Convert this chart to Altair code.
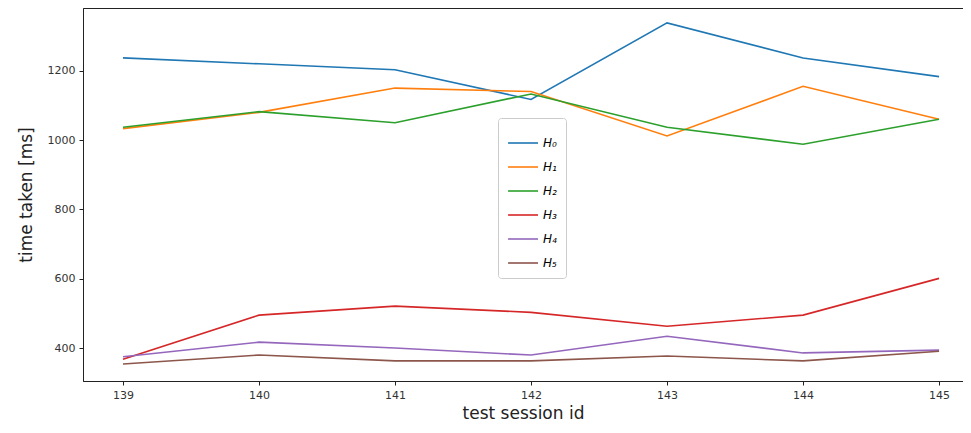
import altair as alt
import pandas as pd

sessions = [139, 140, 141, 142, 143, 144, 145]
series_names = ["H₀", "H₁", "H₂", "H₃", "H₄", "H₅"]
h0 = [1237, 1220, 1203, 1117, 1338, 1237, 1183]
h1 = [1033, 1080, 1150, 1140, 1012, 1155, 1060]
h2 = [1037, 1082, 1050, 1133, 1037, 988, 1060]
h3 = [368, 495, 521, 503, 463, 495, 601]
h4 = [375, 417, 400, 380, 434, 386, 394]
h5 = [354, 380, 363, 363, 377, 363, 391]
colors = ["#1f77b4", "#ff7f0e", "#2ca02c", "#d62728", "#9467bd", "#8c564b"]

rows = []
for name, vals in zip(series_names, [h0, h1, h2, h3, h4, h5]):
    for s, v in zip(sessions, vals):
        rows.append({"session": s, "time": v, "series": name})
df = pd.DataFrame(rows)

chart = alt.Chart(df).mark_line(strokeWidth=1.6, clip=True).encode(
    x=alt.X("session:Q",
            scale=alt.Scale(domain=[138.706, 145.176], nice=False, zero=False),
            axis=alt.Axis(values=sessions, title="test session id", format="d",
                          grid=False, tickSize=4, labelPadding=4,
                          titleFontSize=17, titleFontWeight="normal", titlePadding=5)),
    y=alt.Y("time:Q",
            scale=alt.Scale(domain=[305, 1381], nice=False, zero=False),
            axis=alt.Axis(values=[400, 600, 800, 1000, 1200], title="time taken [ms]",
                          format="d",
                          grid=False, tickSize=4, labelPadding=4,
                          titleFontSize=17, titleFontWeight="normal", titlePadding=12)),
    color=alt.Color("series:N", sort=series_names,
                    scale=alt.Scale(domain=series_names, range=colors),
                    legend=alt.Legend(title=None, orient="none", legendX=415, legendY=110,
                                      symbolType="stroke", symbolSize=900,
                                      symbolStrokeWidth=1.6, labelFontSize=12,
                                      labelFontStyle="italic", rowPadding=2,
                                      padding=9, strokeColor="#cccccc",
                                      cornerRadius=3, fillColor="white")),
    detail="series:N",
).properties(
    width=880, height=373,
    padding={"left": 75, "top": 0, "right": 0, "bottom": 44},
    autosize=alt.AutoSizeParams(type="none"),
).configure_view(
    stroke="#222222", strokeWidth=1
).configure_axis(
    labelFont="DejaVu Sans", titleFont="DejaVu Sans", labelFontSize=11,
    labelColor="#333333", titleColor="#222222", domainColor="#222222",
    tickColor="#222222"
).configure_legend(
    labelFont="DejaVu Sans"
)

chart.save("out.html", embed_options={"renderer": "svg", "actions": False})
